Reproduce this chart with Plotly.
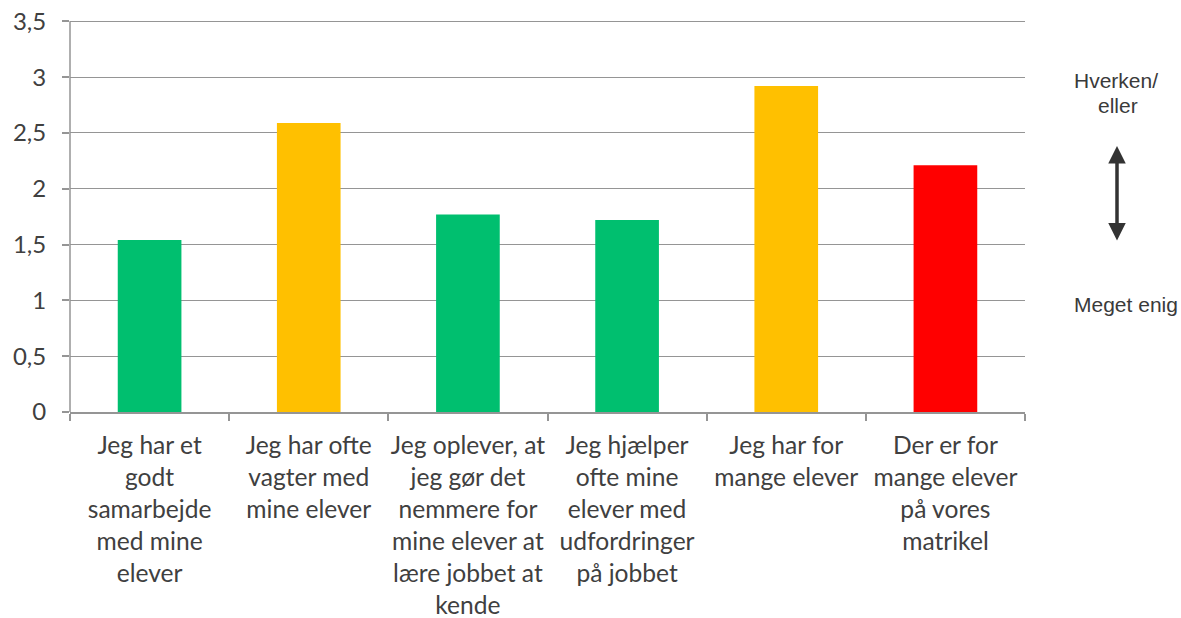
import plotly.graph_objects as go

categories = [
    "Jeg har et<br>godt<br>samarbejde<br>med mine<br>elever",
    "Jeg har ofte<br>vagter med<br>mine elever",
    "Jeg oplever, at<br>jeg gør det<br>nemmere for<br>mine elever at<br>lære jobbet at<br>kende",
    "Jeg hjælper<br>ofte mine<br>elever med<br>udfordringer<br>på jobbet",
    "Jeg har for<br>mange elever",
    "Der er for<br>mange elever<br>på vores<br>matrikel",
]
values = [1.54, 2.59, 1.77, 1.72, 2.92, 2.21]
bar_colors = ["#00BF6F", "#FFC000", "#00BF6F", "#00BF6F", "#FFC000", "#FF0000"]
y_ticks = [0, 0.5, 1, 1.5, 2, 2.5, 3, 3.5]

text_color = "#404040"
grid_color = "#959595"
font_family = "Lato, 'Open Sans', sans-serif"

fig = go.Figure(go.Bar(x=categories, y=values, marker=dict(color=bar_colors, line=dict(width=0)),
                       width=0.4))

fig.update_layout(
    width=1181, height=618,
    margin=dict(l=70, r=156, t=18, b=206, autoexpand=False),
    paper_bgcolor="white", plot_bgcolor="white",
    separators=", ",
    showlegend=False,
    font=dict(family=font_family, color=text_color),
)
fig.update_yaxes(
    range=[0, 3.53], tickvals=y_ticks, showgrid=True, gridcolor=grid_color, gridwidth=1.3,
    showline=False, linecolor=grid_color, linewidth=1.5,
    ticks="outside", ticklen=7, tickcolor=grid_color, tickwidth=1.5,
    tickfont=dict(size=24, color=text_color, family=font_family),
    ticklabelstandoff=11, zeroline=False, automargin=False, ticklabeloverflow="allow",
)
fig.update_xaxes(
    showline=True, linecolor=grid_color, linewidth=1.5,
    ticks="outside", tickson="boundaries", ticklen=7, tickcolor=grid_color, tickwidth=1.5,
    tickfont=dict(size=24.6, color=text_color, family=font_family),
    tickangle=0, ticklabelstandoff=11, automargin=False, ticklabeloverflow="allow",
)
# value axis line from 0 up to the top tick (3,5), like the reference
fig.add_shape(type="line", xref="paper", yref="y", x0=0, x1=0, y0=y_ticks[0], y1=y_ticks[-1],
              line=dict(color=grid_color, width=1.5), layer="above")

side_font = dict(family="'Liberation Sans', Arial, sans-serif", size=21, color="#3a3a3a")
def px_x(sx):
    return (sx - 70) / 955
def px_y(sy):
    return (412 - sy) / 394

fig.add_annotation(xref="paper", yref="paper", x=px_x(1116), y=px_y(80),
                   text="Hverken/", showarrow=False, font=side_font, xanchor="center", yanchor="middle")
fig.add_annotation(xref="paper", yref="paper", x=px_x(1117.5), y=px_y(105),
                   text="eller", showarrow=False, font=side_font, xanchor="center", yanchor="middle")
fig.add_annotation(xref="paper", yref="paper", x=px_x(1125.5), y=px_y(304),
                   text="Meget enig", showarrow=False, font=side_font, xanchor="center", yanchor="middle")
fig.add_annotation(xref="paper", yref="paper", x=px_x(1117), y=px_y(146),
                   ax=0, ay=96, axref="pixel", ayref="pixel",
                   text="", showarrow=True, arrowhead=2, startarrowhead=2, arrowside="end+start",
                   arrowwidth=3.5, arrowsize=1.0, startarrowsize=1.0, arrowcolor="#333333")

fig.write_html(
    "out.html",
    config={"displayModeBar": False},
    post_script="document.body.style.margin='0px';document.body.style.overflow='hidden';",
)
